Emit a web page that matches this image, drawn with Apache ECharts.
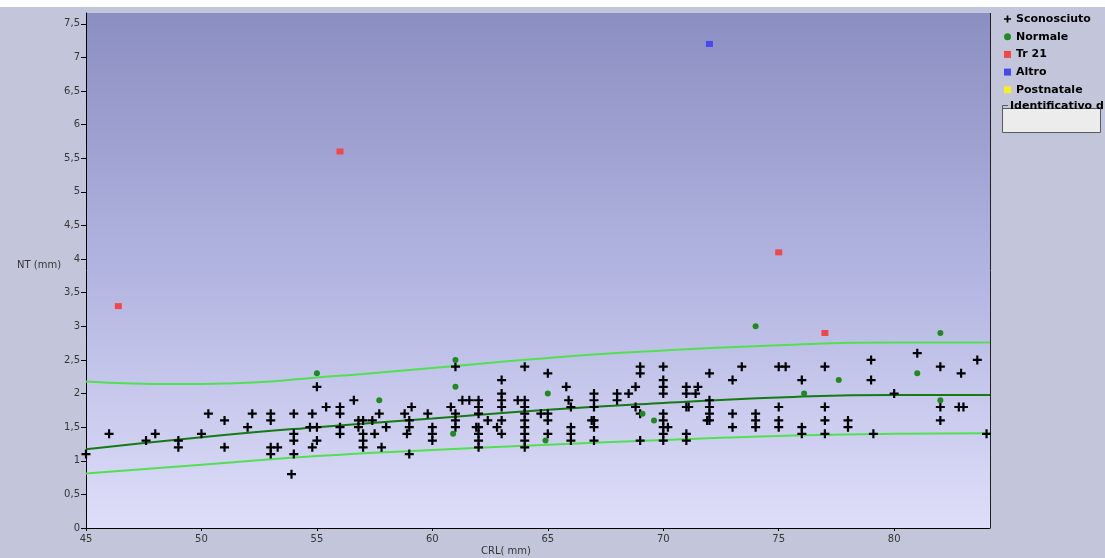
<!DOCTYPE html>
<html><head><meta charset="utf-8">
<script src="https://cdn.jsdelivr.net/npm/echarts@6/dist/echarts.min.js"></script>
<style>html,body{margin:0;padding:0;background:#c3c6da;}#c{width:1105px;height:558px;}</style>
</head><body><div id="c"></div>
<script>
const xTicks = [45, 50, 55, 60, 65, 70, 75, 80];
const yTicks = [0, 0.5, 1, 1.5, 2, 2.5, 3, 3.5, 4, 4.5, 5, 5.5, 6, 6.5, 7, 7.5];
const seriesNames = ['Sconosciuto', 'Normale', 'Tr 21', 'Altro', 'Postnatale'];

const unknownPts = [
  [45,1.1],[46,1.4],[47.6,1.3],[48,1.4],[49,1.3],[49,1.2],[50,1.4],[50.3,1.7],[51,1.6],[51,1.2],[52,1.5],[52.2,1.7],
  [53,1.7],[53,1.6],[53,1.2],[53,1.1],[53.3,1.2],
  [54,1.7],[54,1.4],[54,1.3],[54,1.1],[53.9,0.8],
  [54.8,1.7],[54.7,1.5],[54.8,1.2],[55,2.1],[55,1.5],[55,1.3],
  [55.4,1.8],[56,1.8],[56,1.7],[56,1.5],[56,1.4],[56.6,1.9],
  [56.8,1.6],[56.8,1.5],[57,1.6],[57.4,1.6],[57,1.4],[57,1.3],[57,1.2],[57.5,1.4],[57.7,1.7],[57.8,1.2],
  [58,1.5],[58.8,1.7],[59.1,1.8],[59,1.6],[59,1.5],[58.9,1.4],[59,1.1],[59.8,1.7],
  [60,1.5],[60,1.4],[60,1.3],[60.8,1.8],[61,2.4],[61,1.7],[61,1.6],[61,1.5],[61.3,1.9],[61.6,1.9],
  [62,1.9],[62,1.8],[62,1.7],[62,1.5],[61.9,1.5],[62,1.4],[62,1.3],[62,1.2],[62.4,1.6],[62.8,1.5],
  [63,2.2],[63,2.0],[63,1.9],[63,1.8],[63,1.6],[63,1.4],[63.7,1.9],
  [64,2.4],[64,1.9],[64,1.8],[64,1.7],[64,1.6],[64,1.5],[64,1.4],[64,1.3],[64,1.2],
  [65,2.3],[64.7,1.7],[65,1.7],[65,1.6],[65,1.4],[65.8,2.1],[65.9,1.9],[66,1.8],[66,1.5],[66,1.4],[66,1.3],
  [67,2.0],[67,1.9],[67,1.8],[67,1.6],[66.9,1.6],[67,1.5],[67,1.3],[68,2.0],[68,1.9],[68.5,2.0],[68.8,2.1],
  [69,2.4],[69,2.3],[68.8,1.8],[69,1.7],[69,1.3],
  [70,2.4],[70,2.2],[70,2.1],[70,2.0],[70,1.7],[70,1.6],[70,1.5],[70,1.4],[70,1.3],[70.2,1.5],
  [71,2.1],[71,2.0],[71.5,2.1],[71.4,2.0],[71.1,1.8],[71,1.8],[71,1.4],[71,1.3],
  [72,2.3],[72,1.9],[72,1.8],[72,1.7],[72,1.6],[71.9,1.6],
  [73,2.2],[73.4,2.4],[73,1.7],[73,1.5],
  [74,1.7],[74,1.6],[74,1.5],[75,2.4],[75.3,2.4],[75,1.8],[75,1.6],[75,1.5],
  [76,2.2],[76,1.5],[76,1.4],[77,2.4],[77,1.8],[77,1.6],[77,1.4],[78,1.6],[78,1.5],
  [79,2.5],[79,2.2],[79.1,1.4],[80,2.0],[81,2.6],[82,2.4],[82,1.8],[82,1.6],
  [82.9,2.3],[83.6,2.5],[82.8,1.8],[83,1.8],[84,1.4]
];
const normalPts = [
  [55,2.3],[57.7,1.9],[61,2.5],[61,2.1],[60.9,1.4],[65,2.0],[64.9,1.3],[69.1,1.7],[69.6,1.6],
  [74,3.0],[76.1,2.0],[77.6,2.2],[81,2.3],[82,2.9],[82,1.9]
];
const tr21Pts = [[46.4,3.3],[56,5.6],[75,4.1],[77,2.9]];
const altroPts = [[72,7.2]];
const postnatalePts = [];

const p95Curve = [[45,2.18],[47,2.15],[49,2.14],[51,2.15],[53,2.18],[55,2.24],[57,2.29],[60,2.38],[65,2.53],[70,2.64],[75,2.72],[80,2.76],[84.15,2.76]];
const medianCurve = [[45,1.17],[50,1.35],[55,1.50],[60,1.63],[65,1.76],[70,1.86],[75,1.94],[80,1.98],[84.15,1.98]];
const p5Curve = [[45,0.81],[50,0.94],[55,1.07],[60,1.16],[65,1.24],[70,1.31],[75,1.37],[80,1.40],[84.15,1.41]];

const plusPath = 'path://M0,3.4H9V5.6H0Z M3.4,0H5.6V9H3.4Z';
const fmt = v => String(v).replace('.', ',');
const axisFont = {fontFamily: 'DejaVu Sans', fontSize: 10, color: '#363636'};

const chart = echarts.init(document.getElementById('c'), null, {renderer: 'canvas'});
chart.setOption({
  backgroundColor: '#c3c6da',
  animation: false,
  grid: {
    left: 86, right: 115, top: 13, bottom: 30, show: true, borderWidth: 0,
    backgroundColor: {type: 'linear', x: 0, y: 0, x2: 0, y2: 1,
      colorStops: [{offset: 0, color: '#8b8ec1'}, {offset: 0.5, color: '#b2b4e0'}, {offset: 1, color: '#dedef9'}]}
  },
  xAxis: {
    type: 'value', min: 45, max: 84.15,
    axisLine: {show: true, lineStyle: {color: '#000', width: 1}},
    axisTick: {show: true, length: 3, lineStyle: {color: '#000'}, customValues: xTicks},
    axisLabel: Object.assign({margin: 6, formatter: fmt, customValues: xTicks}, axisFont),
    splitLine: {show: false}
  },
  yAxis: {
    type: 'value', min: 0, max: 7.66,
    axisLine: {show: true, lineStyle: {color: '#000', width: 1}},
    axisTick: {show: true, length: 5, lineStyle: {color: '#000'}, customValues: yTicks},
    axisLabel: Object.assign({margin: 6, formatter: fmt, customValues: yTicks}, axisFont),
    splitLine: {show: false}
  },
  legend: {
    orient: 'vertical', left: 999, top: 7, itemWidth: 7, itemHeight: 7, itemGap: 3.7,
    textStyle: {fontFamily: 'DejaVu Sans', fontSize: 11, fontWeight: 'bold', color: '#000', lineHeight: 14},
    data: [
      {name: seriesNames[0], icon: plusPath},
      {name: seriesNames[1], icon: 'circle'},
      {name: seriesNames[2], icon: 'rect'},
      {name: seriesNames[3], icon: 'rect'},
      {name: seriesNames[4], icon: 'rect'}
    ]
  },
  graphic: [
    {type: 'rect', left: 0, top: 0, shape: {width: 1105, height: 7}, style: {fill: '#ffffff'}, silent: true},
    {type: 'line', shape: {x1: 990.5, y1: 13, x2: 990.5, y2: 528}, style: {stroke: '#202020', lineWidth: 1}},
    {type: 'text', x: 17, y: 265, style: {text: 'NT (mm)', textVerticalAlign: 'middle', fill: '#363636', font: '10px "DejaVu Sans"'}},
    {type: 'text', x: 481, y: 551, style: {text: 'CRL( mm)', textVerticalAlign: 'middle', fill: '#363636', font: '10px "DejaVu Sans"'}},
    {type: 'rect', shape: {x: 1002.5, y: 108.5, width: 98, height: 24}, style: {fill: '#ececec', stroke: '#5a5a5a', lineWidth: 1}},
    {type: 'line', shape: {x1: 1002.5, y1: 105.5, x2: 1008, y2: 105.5}, style: {stroke: '#5a5a5a', lineWidth: 1}},
    {type: 'line', shape: {x1: 1002.5, y1: 105.5, x2: 1002.5, y2: 109}, style: {stroke: '#5a5a5a', lineWidth: 1}},
    {type: 'text', x: 1010, y: 106, style: {text: 'Identificativo d', textVerticalAlign: 'middle', fill: '#000', font: 'bold 11px "DejaVu Sans"'}}
  ],
  series: [
    {name: 'p95', type: 'line', data: p95Curve, smooth: true, symbol: 'none', silent: true, lineStyle: {color: '#52e052', width: 2}, z: 2},
    {name: 'mediana', type: 'line', data: medianCurve, smooth: true, symbol: 'none', silent: true, lineStyle: {color: '#147a14', width: 2}, z: 2},
    {name: 'p5', type: 'line', data: p5Curve, smooth: true, symbol: 'none', silent: true, lineStyle: {color: '#52e052', width: 2}, z: 2},
    {name: seriesNames[0], type: 'scatter', data: unknownPts, symbol: plusPath, symbolSize: 9, itemStyle: {color: '#000', opacity: 1}, z: 4},
    {name: seriesNames[1], type: 'scatter', data: normalPts, symbol: 'circle', symbolSize: 6, itemStyle: {color: '#1f8a1f', opacity: 1}, z: 5},
    {name: seriesNames[2], type: 'scatter', data: tr21Pts, symbol: 'rect', symbolSize: [7, 6], itemStyle: {color: '#f04848', opacity: 1}, z: 5},
    {name: seriesNames[3], type: 'scatter', data: altroPts, symbol: 'rect', symbolSize: [7, 6], itemStyle: {color: '#4848f0', opacity: 1}, z: 5},
    {name: seriesNames[4], type: 'scatter', data: postnatalePts, symbol: 'rect', symbolSize: [7, 6], itemStyle: {color: '#f4f020', opacity: 1}, z: 5}
  ]
});
</script></body></html>
